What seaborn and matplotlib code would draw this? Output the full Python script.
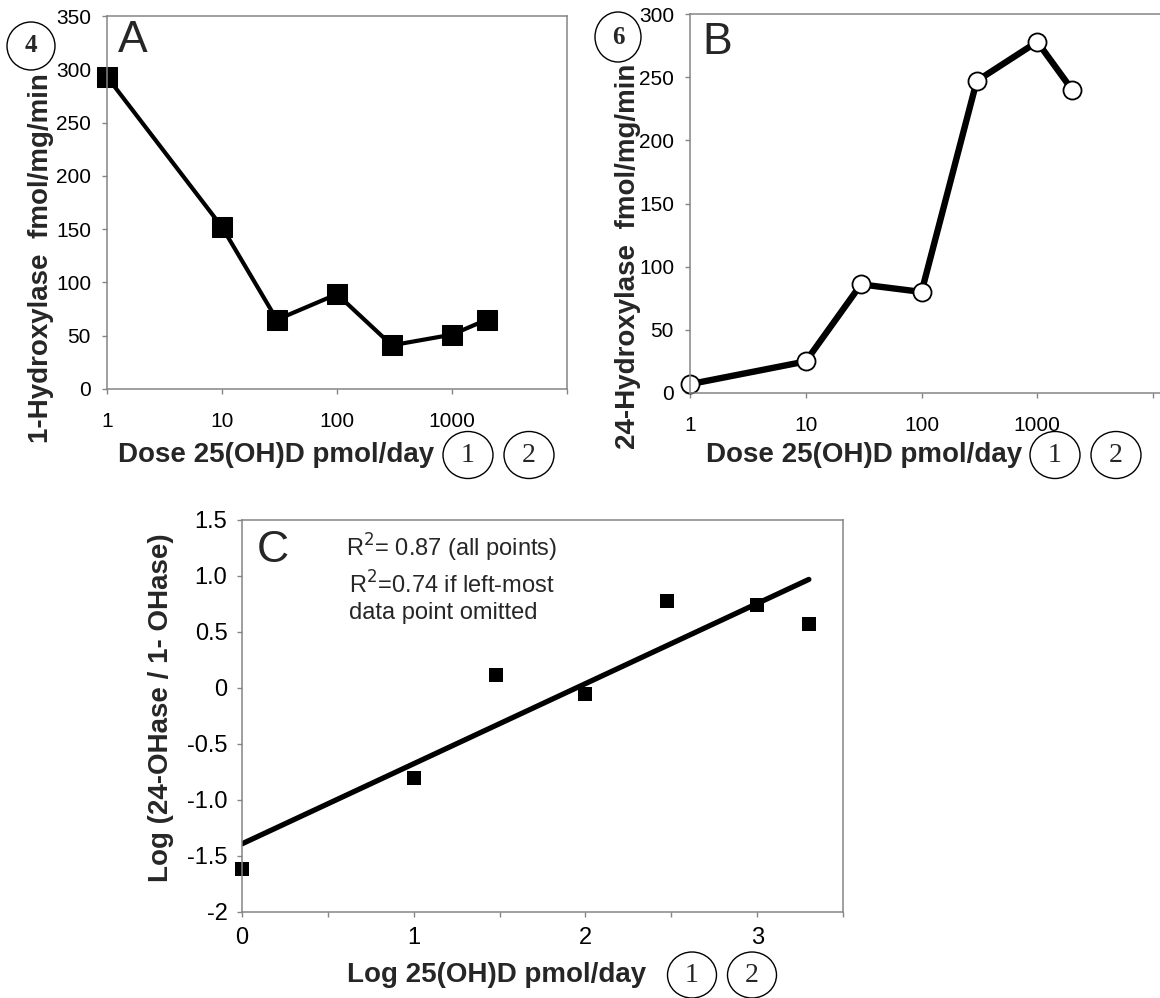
import numpy as np
import pandas as pd
import matplotlib
matplotlib.use("Agg")
import matplotlib.pyplot as plt
import seaborn as sns
from matplotlib.patches import Ellipse

# ---------------- data ----------------
dose = [1, 10, 30, 100, 300, 1000, 2000]
hydroxylase_1 = [293, 152, 65, 89, 41, 51, 65]
hydroxylase_24 = [7, 25, 86, 80, 247, 278, 240]
log_dose = [0, 1, 1.477, 2, 2.477, 3, 3.301]
log_ratio = [-1.62, -0.80, 0.12, -0.05, 0.78, 0.74, 0.57]

dose_ticks = [1, 10, 100, 1000, 10000]
dose_ticklabels = ["1", "10", "100", "1000", ""]
a_yticks = [0, 50, 100, 150, 200, 250, 300, 350]
b_yticks = [0, 50, 100, 150, 200, 250, 300]
c_xticks = [0, 0.5, 1, 1.5, 2, 2.5, 3, 3.5]
c_xticklabels = ["0", "", "1", "", "2", "", "3", ""]
c_yticks = [-2, -1.5, -1.0, -0.5, 0, 0.5, 1.0, 1.5]
c_yticklabels = ["-2", "-1.5", "-1.0", "-0.5", "0", "0.5", "1.0", "1.5"]

# ---------------- style ----------------
sns.set_theme(style="ticks")
plt.rcParams["font.family"] = ["Liberation Sans", "DejaVu Sans"]
plt.rcParams["axes.linewidth"] = 1.1
plt.rcParams["axes.edgecolor"] = "#858585"

W, H = 1160, 998
fig = plt.figure(figsize=(W / 100, H / 100), dpi=100)
fig.patch.set_facecolor("white")


def frac(l, t, r, b):
    return [l / W, 1 - b / H, (r - l) / W, (b - t) / H]


def fx(x):
    return x / W


def fy(y):
    return 1 - y / H


def circled(x, y, label, w=50, h=47, size=20, weight="normal"):
    fig.add_artist(Ellipse((fx(x), fy(y)), w / W, h / H, transform=fig.transFigure,
                           fill=False, ec="black", lw=1.0))
    fig.text(fx(x), fy(y), label, ha="center", va="center", fontsize=size,
             family=["Liberation Serif", "DejaVu Serif"], fontweight=weight)


def style_axis(ax, xpad, ypad, tsize):
    for s in ax.spines.values():
        s.set_visible(True)
        s.set_color("#858585")
        s.set_linewidth(1.1)
    ax.tick_params(axis="both", which="both", direction="out", length=3.5, width=1,
                   color="#858585", labelsize=tsize, labelcolor="black")
    ax.tick_params(axis="x", pad=xpad)
    ax.tick_params(axis="y", pad=ypad)
    ax.set_facecolor("white")


# ---------------- Panel A ----------------
axA = fig.add_axes(frac(107, 16, 567, 389))
sns.lineplot(x=dose, y=hydroxylase_1, ax=axA, color="black", linewidth=3.0,
             marker="s", markersize=14.5, markeredgecolor="black",
             markerfacecolor="black", clip_on=False)
axA.set_xscale("log")
axA.set_xlim(1, 10000)
axA.set_ylim(0, 350)
axA.set_xticks(dose_ticks)
axA.set_xticklabels(dose_ticklabels)
axA.xaxis.set_minor_locator(matplotlib.ticker.NullLocator())
axA.set_yticks(a_yticks)
axA.set_yticklabels([str(v) for v in a_yticks])
style_axis(axA, 13, 8, 15)
axA.set_xlabel("Dose 25(OH)D pmol/day", fontsize=20, fontweight="bold", va="center")
axA.xaxis.set_label_coords(0.367, -0.177)
axA.set_ylabel("1-Hydroxylase  fmol/mg/min", fontsize=20, fontweight="bold", va="center")
axA.yaxis.set_label_coords(-0.1435, 0.351)
fig.text(fx(118), fy(41), "A", fontsize=32, ha="left", va="center")
circled(31, 46, "4", w=48, h=48, size=18, weight="bold")
circled(468, 455, "1")
circled(529, 455, "2")

# ---------------- Panel B ----------------
axB = fig.add_axes(frac(690, 14, 1171, 393))
sns.lineplot(x=dose, y=hydroxylase_24, ax=axB, color="black", linewidth=4.6,
             marker="o", markersize=13, markeredgecolor="black",
             markerfacecolor="white", markeredgewidth=1.3, clip_on=False)
axB.set_xscale("log")
axB.set_xlim(1, 10 ** 4.155)
axB.set_ylim(0, 300)
axB.set_xticks(dose_ticks)
axB.set_xticklabels(dose_ticklabels)
axB.xaxis.set_minor_locator(matplotlib.ticker.NullLocator())
axB.set_yticks(b_yticks)
axB.set_yticklabels([str(v) for v in b_yticks])
style_axis(axB, 13, 8, 15)
axB.set_xlabel("Dose 25(OH)D pmol/day", fontsize=20, fontweight="bold", va="center")
axB.xaxis.set_label_coords(0.362, -0.164)
axB.set_ylabel("24-Hydroxylase  fmol/mg/min", fontsize=20, fontweight="bold", va="center")
axB.yaxis.set_label_coords(-0.129, 0.361)
fig.text(fx(702), fy(42), "B", fontsize=32, ha="left", va="center")
circled(618, 37, "6", w=46, h=50, size=18, weight="bold")
circled(1055, 455, "1")
circled(1116, 455, "2")

# ---------------- Panel C ----------------
axC = fig.add_axes(frac(242, 520, 843, 912))
sns.regplot(x=log_dose, y=log_ratio, ax=axC, ci=None, marker="s", color="black",
            scatter_kws=dict(s=90, color="black", alpha=1, linewidths=0, clip_on=False),
            line_kws=dict(lw=3.8, color="black"))
axC.set_xlim(0, 3.5)
axC.set_ylim(-2, 1.5)
axC.set_xticks(c_xticks)
axC.set_xticklabels(c_xticklabels)
axC.set_yticks(c_yticks)
axC.set_yticklabels(c_yticklabels)
style_axis(axC, 7, 7, 17)
axC.set_xlabel("Log 25(OH)D pmol/day", fontsize=20, fontweight="bold", va="center")
axC.xaxis.set_label_coords(0.424, -0.161)
axC.set_ylabel("Log (24-OHase / 1- OHase)", fontsize=20, fontweight="bold", va="center")
axC.yaxis.set_label_coords(-0.135, 0.52)
fig.text(fx(257), fy(551), "C", fontsize=32, ha="left", va="center")
fig.text(fx(346), fy(548), "R$^2$= 0.87 (all points)", fontsize=17, ha="left", va="center")
fig.text(fx(349), fy(585), "R$^2$=0.74 if left-most", fontsize=17, ha="left", va="center")
fig.text(fx(349), fy(613), "data point omitted", fontsize=17, ha="left", va="center")
circled(692, 975, "1", w=49, h=46)
circled(752, 975, "2", w=49, h=46)

fig.savefig("out.png", dpi=100, facecolor="white")
